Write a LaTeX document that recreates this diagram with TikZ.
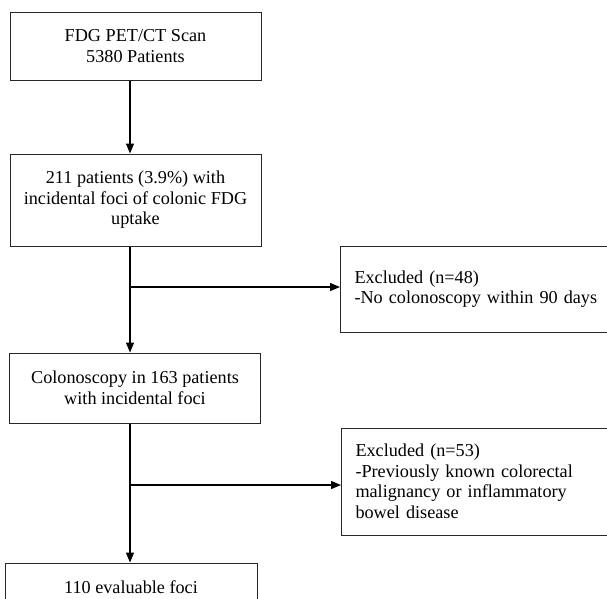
\documentclass[tikz,border=0pt]{standalone}
\usepackage{fontspec}
\setmainfont{Liberation Serif}
\usetikzlibrary{arrows.meta}
\begin{document}
\begin{tikzpicture}[x=1pt,y=-1pt,
  every node/.style={font=\fontsize{18.2}{20.5}\selectfont},
  mainbox/.style={draw=black!85,line width=1pt,align=center,minimum width=251pt,inner sep=0pt},
  exbox/.style={draw=black!85,line width=1pt,align=left,anchor=west,text width=255pt,inner xsep=14pt,inner ysep=0pt},
  conn/.style={line width=1.3pt,-{Triangle[length=10pt,width=8pt]}},
  plain/.style={line width=1.3pt}]
\useasboundingbox (0,0) rectangle (607,598);
\clip (0,0) rectangle (607,598);
\fill[white] (0,0) rectangle (607,598);
\node[mainbox,minimum height=68pt] (b1) at (135.5,46) {FDG PET/CT Scan\\5380 Patients};
\node[mainbox,minimum height=92pt] (b2) at (135.5,200) {211 patients (3.9\%) with\\incidental foci of colonic FDG\\uptake};
\node[mainbox,minimum height=70pt] (b3) at (135,388) {Colonoscopy in 163 patients\\with incidental foci};
\node[mainbox,minimum width=252pt,minimum height=48pt] (b4) at (131,587) {110 evaluable foci};
\node[exbox,minimum height=86pt] (e1) at (340,289) {Excluded (n=48)\\-No colonoscopy within 90 days};
\node[exbox,minimum height=107pt] (e2) at (341,481.5) {Excluded (n=53)\\-Previously known colorectal\\malignancy or inflammatory\\bowel disease};
\coordinate (sp) at (130,0);
\coordinate (j1) at (130,287);
\coordinate (j2) at (130,485);
\draw[conn] (b1.south -| sp) -- (b2.north -| sp);
\draw[conn] (b2.south -| sp) -- (b3.north -| sp);
\draw[conn] (b3.south -| sp) -- (b4.north -| sp);
\draw[conn] (j1) -- (j1 -| e1.west);
\draw[conn] (j2) -- (j2 -| e2.west);
\end{tikzpicture}
\end{document}
